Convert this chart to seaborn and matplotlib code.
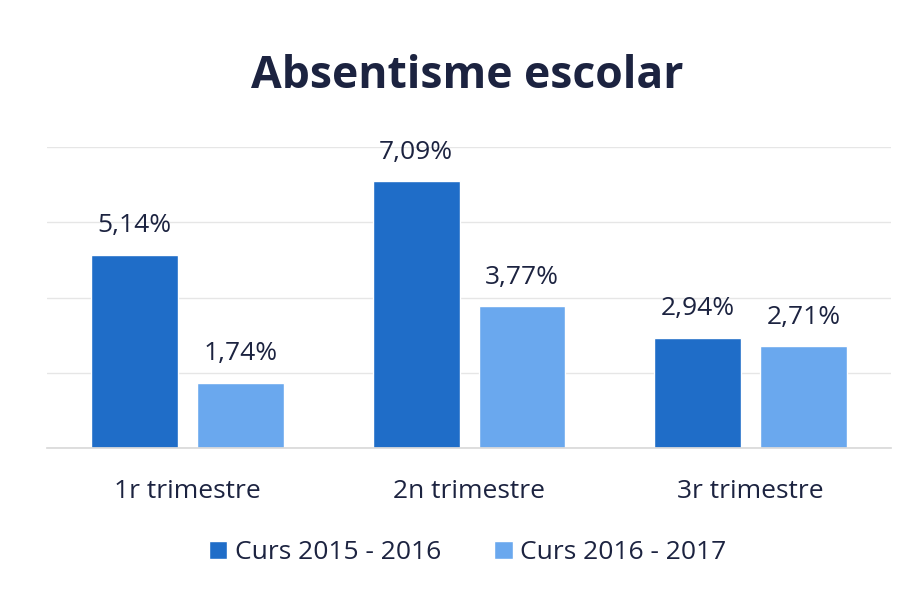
import matplotlib
matplotlib.use("Agg")
import matplotlib.pyplot as plt
import pandas as pd
import seaborn as sns

trimestres = ["1r trimestre", "2n trimestre", "3r trimestre"]
cursos = ["Curs 2015 - 2016", "Curs 2016 - 2017"]
curs_2015 = [5.14, 7.09, 2.94]
curs_2016 = [1.74, 3.77, 2.71]
colors = ["#1f6dc8", "#6aa8ee"]

df = pd.DataFrame({
    "trimestre": trimestres * 2,
    "curs": [cursos[0]] * 3 + [cursos[1]] * 3,
    "valor": curs_2015 + curs_2016,
})

sns.set_theme(style="white")
plt.rcParams["font.family"] = ["Open Sans", "DejaVu Sans"]
text_color = "#1c2340"

fig = plt.figure(figsize=(9.17, 5.96), dpi=100)
ax = fig.add_axes([0.051, 0.248, 0.921, 0.505])
sns.barplot(data=df, x="trimestre", y="valor", hue="curs", palette=colors,
            saturation=1, width=0.75, gap=0.18, ax=ax, legend=True)

for cont in ax.containers:
    ax.bar_label(cont, labels=[f"{v:.2f}%".replace(".", ",") for v in cont.datavalues],
                 padding=12, fontsize=19, color=text_color)

ax.set_ylim(0, 8)
ax.set_yticks([0, 2, 4, 6, 8])
ax.yaxis.grid(True, color="#e6e6e6", linewidth=1)
ax.set_axisbelow(True)
ax.tick_params(axis="y", left=False, labelleft=False)
ax.tick_params(axis="x", bottom=False, labelsize=19, colors=text_color, pad=16)
ax.set_xlabel("")
ax.set_ylabel("")
for s in ["top", "right", "left"]:
    ax.spines[s].set_visible(False)
ax.spines["bottom"].set_color("#d9d9d9")

handles, labels = ax.get_legend_handles_labels()
ax.get_legend().remove()
fig.legend(handles, labels, loc="center", bbox_to_anchor=(0.51, 0.073), ncol=2,
           frameon=False, fontsize=19, handlelength=0.7, handleheight=0.7,
           handletextpad=0.3, columnspacing=2.0, labelcolor=text_color)

fig.suptitle("Absentisme escolar", x=0.51, y=0.91, fontsize=32, fontweight="bold",
             color=text_color)

fig.savefig("out.png", dpi=100, facecolor="white")
